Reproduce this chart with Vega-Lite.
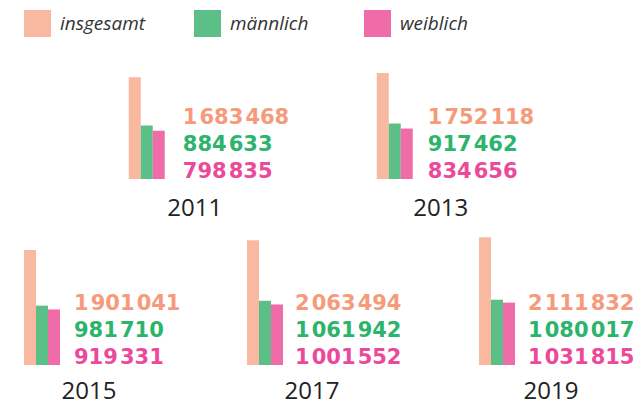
{
  "$schema": "https://vega.github.io/schema/vega-lite/v6.json",
  "background": "white",
  "padding": {"left": 24, "top": 10, "right": 0, "bottom": 6},
  "autosize": {"type": "pad"},
  "data": {"values": [
    {"year": 2011, "gender": "insgesamt", "value": 1683468},
    {"year": 2011, "gender": "männlich", "value": 884633},
    {"year": 2011, "gender": "weiblich", "value": 798835},
    {"year": 2013, "gender": "insgesamt", "value": 1752118},
    {"year": 2013, "gender": "männlich", "value": 917462},
    {"year": 2013, "gender": "weiblich", "value": 834656},
    {"year": 2015, "gender": "insgesamt", "value": 1901041},
    {"year": 2015, "gender": "männlich", "value": 981710},
    {"year": 2015, "gender": "weiblich", "value": 919331},
    {"year": 2017, "gender": "insgesamt", "value": 2063494},
    {"year": 2017, "gender": "männlich", "value": 1061942},
    {"year": 2017, "gender": "weiblich", "value": 1001552},
    {"year": 2019, "gender": "insgesamt", "value": 2111832},
    {"year": 2019, "gender": "männlich", "value": 1080017},
    {"year": 2019, "gender": "weiblich", "value": 1031815}
  ]},
  "vconcat": [
    {
      "hconcat": [
        {
          "width": 248, "height": 133,
          "title": {"text": "2011", "orient": "bottom", "anchor": "start", "frame": "group", "align": "center", "dx": 66, "offset": 34, "baseline": "alphabetic", "font": "Open Sans", "fontSize": 24, "fontWeight": "normal", "color": "#222222"},
          "transform": [{"filter": "datum.year == 2011"}],
          "layer": [
            {"mark": {"type": "bar"}, "encoding": {
              "x": {"field": "gender", "type": "nominal", "scale": {"domain": ["insgesamt", "männlich", "weiblich"], "range": [0, 36], "paddingInner": 0, "paddingOuter": 0}, "axis": null},
              "y": {"field": "value", "type": "quantitative", "scale": {"domain": [0, 2200000], "nice": false, "zero": true}, "axis": null},
              "color": {"field": "gender", "type": "nominal", "scale": {"domain": ["insgesamt", "männlich", "weiblich"], "range": ["#f9b8a0", "#5bbf87", "#f06ca9"]}, "legend": {"orient": "none", "legendX": 0, "legendY": -36, "direction": "horizontal", "title": null, "symbolType": "square", "symbolSize": 729, "symbolStrokeWidth": 0, "symbolOpacity": 1, "labelFont": "Open Sans", "labelFontStyle": "italic", "labelFontSize": 19, "labelColor": "#333333", "labelOffset": 9, "gridAlign": "all", "columnPadding": 48, "padding": 0}}
            }},
            {"mark": {"type": "text", "align": "left", "baseline": "alphabetic", "dx": 24, "font": "DejaVu Sans", "fontWeight": "bold", "fontSize": 21}, "encoding": {
              "x": {"datum": "weiblich", "type": "nominal"},
              "y": {"field": "gender", "type": "nominal", "scale": {"type": "point", "domain": ["insgesamt", "männlich", "weiblich"], "range": [78, 132], "padding": 0}, "axis": null},
              "text": {"field": "value", "type": "quantitative", "format": ",d"},
              "fill": {"field": "gender", "type": "nominal", "scale": {"domain": ["insgesamt", "männlich", "weiblich"], "range": ["#f59b7c", "#2db46c", "#eb4a9b"]}, "legend": null}
            }}
          ],
          "resolve": {"scale": {"y": "independent"}}
        },
        {
          "width": 157, "height": 133,
          "title": {"text": "2013", "orient": "bottom", "anchor": "start", "frame": "group", "align": "center", "dx": 64, "offset": 34, "baseline": "alphabetic", "font": "Open Sans", "fontSize": 24, "fontWeight": "normal", "color": "#222222"},
          "transform": [{"filter": "datum.year == 2013"}],
          "layer": [
            {"mark": {"type": "bar"}, "encoding": {
              "x": {"field": "gender", "type": "nominal", "scale": {"domain": ["insgesamt", "männlich", "weiblich"], "range": [0, 36], "paddingInner": 0, "paddingOuter": 0}, "axis": null},
              "y": {"field": "value", "type": "quantitative", "scale": {"domain": [0, 2200000], "nice": false, "zero": true}, "axis": null},
              "color": {"field": "gender", "type": "nominal", "scale": {"domain": ["insgesamt", "männlich", "weiblich"], "range": ["#f9b8a0", "#5bbf87", "#f06ca9"]}}
            }},
            {"mark": {"type": "text", "align": "left", "baseline": "alphabetic", "dx": 21, "font": "DejaVu Sans", "fontWeight": "bold", "fontSize": 21}, "encoding": {
              "x": {"datum": "weiblich", "type": "nominal"},
              "y": {"field": "gender", "type": "nominal", "scale": {"type": "point", "domain": ["insgesamt", "männlich", "weiblich"], "range": [78, 132], "padding": 0}, "axis": null},
              "text": {"field": "value", "type": "quantitative", "format": ",d"},
              "fill": {"field": "gender", "type": "nominal", "scale": {"domain": ["insgesamt", "männlich", "weiblich"], "range": ["#f59b7c", "#2db46c", "#eb4a9b"]}, "legend": null}
            }}
          ],
          "resolve": {"scale": {"y": "independent"}}
        }
      ],
      "spacing": 0
    },
    {
      "hconcat": [
        {
          "width": 223, "height": 133,
          "title": {"text": "2015", "orient": "bottom", "anchor": "start", "frame": "group", "align": "center", "dx": 65, "offset": 31, "baseline": "alphabetic", "font": "Open Sans", "fontSize": 24, "fontWeight": "normal", "color": "#222222"},
          "transform": [{"filter": "datum.year == 2015"}],
          "layer": [
            {"mark": {"type": "bar"}, "encoding": {
              "x": {"field": "gender", "type": "nominal", "scale": {"domain": ["insgesamt", "männlich", "weiblich"], "range": [0, 36], "paddingInner": 0, "paddingOuter": 0}, "axis": null},
              "y": {"field": "value", "type": "quantitative", "scale": {"domain": [0, 2200000], "nice": false, "zero": true}, "axis": null},
              "color": {"field": "gender", "type": "nominal", "scale": {"domain": ["insgesamt", "männlich", "weiblich"], "range": ["#f9b8a0", "#5bbf87", "#f06ca9"]}}
            }},
            {"mark": {"type": "text", "align": "left", "baseline": "alphabetic", "dx": 20, "font": "DejaVu Sans", "fontWeight": "bold", "fontSize": 21}, "encoding": {
              "x": {"datum": "weiblich", "type": "nominal"},
              "y": {"field": "gender", "type": "nominal", "scale": {"type": "point", "domain": ["insgesamt", "männlich", "weiblich"], "range": [78, 132], "padding": 0}, "axis": null},
              "text": {"field": "value", "type": "quantitative", "format": ",d"},
              "fill": {"field": "gender", "type": "nominal", "scale": {"domain": ["insgesamt", "männlich", "weiblich"], "range": ["#f59b7c", "#2db46c", "#eb4a9b"]}, "legend": null}
            }}
          ],
          "resolve": {"scale": {"y": "independent"}}
        },
        {
          "width": 232, "height": 133,
          "title": {"text": "2017", "orient": "bottom", "anchor": "start", "frame": "group", "align": "center", "dx": 65, "offset": 31, "baseline": "alphabetic", "font": "Open Sans", "fontSize": 24, "fontWeight": "normal", "color": "#222222"},
          "transform": [{"filter": "datum.year == 2017"}],
          "layer": [
            {"mark": {"type": "bar"}, "encoding": {
              "x": {"field": "gender", "type": "nominal", "scale": {"domain": ["insgesamt", "männlich", "weiblich"], "range": [0, 36], "paddingInner": 0, "paddingOuter": 0}, "axis": null},
              "y": {"field": "value", "type": "quantitative", "scale": {"domain": [0, 2200000], "nice": false, "zero": true}, "axis": null},
              "color": {"field": "gender", "type": "nominal", "scale": {"domain": ["insgesamt", "männlich", "weiblich"], "range": ["#f9b8a0", "#5bbf87", "#f06ca9"]}}
            }},
            {"mark": {"type": "text", "align": "left", "baseline": "alphabetic", "dx": 18, "font": "DejaVu Sans", "fontWeight": "bold", "fontSize": 21}, "encoding": {
              "x": {"datum": "weiblich", "type": "nominal"},
              "y": {"field": "gender", "type": "nominal", "scale": {"type": "point", "domain": ["insgesamt", "männlich", "weiblich"], "range": [78, 132], "padding": 0}, "axis": null},
              "text": {"field": "value", "type": "quantitative", "format": ",d"},
              "fill": {"field": "gender", "type": "nominal", "scale": {"domain": ["insgesamt", "männlich", "weiblich"], "range": ["#f59b7c", "#2db46c", "#eb4a9b"]}, "legend": null}
            }}
          ],
          "resolve": {"scale": {"y": "independent"}}
        },
        {
          "width": 160, "height": 133,
          "title": {"text": "2019", "orient": "bottom", "anchor": "start", "frame": "group", "align": "center", "dx": 72, "offset": 31, "baseline": "alphabetic", "font": "Open Sans", "fontSize": 24, "fontWeight": "normal", "color": "#222222"},
          "transform": [{"filter": "datum.year == 2019"}],
          "layer": [
            {"mark": {"type": "bar"}, "encoding": {
              "x": {"field": "gender", "type": "nominal", "scale": {"domain": ["insgesamt", "männlich", "weiblich"], "range": [0, 36], "paddingInner": 0, "paddingOuter": 0}, "axis": null},
              "y": {"field": "value", "type": "quantitative", "scale": {"domain": [0, 2200000], "nice": false, "zero": true}, "axis": null},
              "color": {"field": "gender", "type": "nominal", "scale": {"domain": ["insgesamt", "männlich", "weiblich"], "range": ["#f9b8a0", "#5bbf87", "#f06ca9"]}}
            }},
            {"mark": {"type": "text", "align": "left", "baseline": "alphabetic", "dx": 19, "font": "DejaVu Sans", "fontWeight": "bold", "fontSize": 21}, "encoding": {
              "x": {"datum": "weiblich", "type": "nominal"},
              "y": {"field": "gender", "type": "nominal", "scale": {"type": "point", "domain": ["insgesamt", "männlich", "weiblich"], "range": [78, 132], "padding": 0}, "axis": null},
              "text": {"field": "value", "type": "quantitative", "format": ",d"},
              "fill": {"field": "gender", "type": "nominal", "scale": {"domain": ["insgesamt", "männlich", "weiblich"], "range": ["#f59b7c", "#2db46c", "#eb4a9b"]}, "legend": null}
            }}
          ],
          "resolve": {"scale": {"y": "independent"}}
        }
      ],
      "spacing": 0
    }
  ],
  "spacing": 11,
  "center": true,
  "config": {
    "view": {"stroke": null},
    "locale": {"number": {"decimal": ",", "thousands": "\u200a", "grouping": [3], "currency": ["", " €"]}}
  }
}
